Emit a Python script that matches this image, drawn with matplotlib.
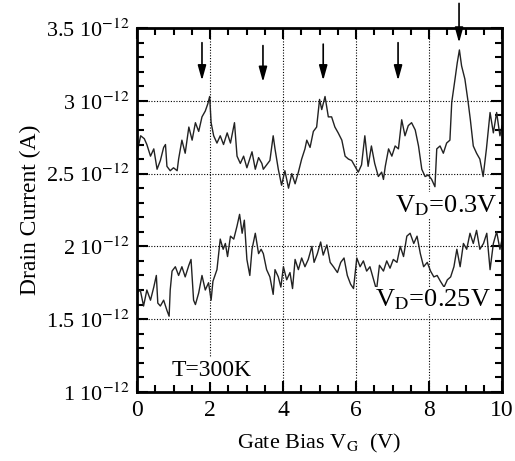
import matplotlib
matplotlib.use('Agg')
import matplotlib.pyplot as plt
import numpy as np
from matplotlib.ticker import MultipleLocator, FuncFormatter

plt.rcParams['font.family'] = ['Liberation Serif', 'DejaVu Serif']
plt.rcParams['mathtext.fontset'] = 'stix'

# V_D = 0.3 V trace (units of 1e-12 A)
vg_hi = [0.00, 0.10, 0.20, 0.27, 0.37, 0.46, 0.55, 0.64, 0.73, 0.78, 0.82, 0.91,
         1.00, 1.10, 1.14, 1.23, 1.32, 1.42, 1.51, 1.60, 1.69, 1.78, 1.87, 1.94,
         1.99, 2.03, 2.10, 2.19, 2.28, 2.37, 2.47, 2.56, 2.67, 2.74, 2.83, 2.92,
         3.01, 3.15, 3.24, 3.33, 3.42, 3.46, 3.55, 3.64, 3.73, 3.78, 3.87, 3.96,
         4.05, 4.15, 4.24, 4.33, 4.42, 4.51, 4.60, 4.65, 4.74, 4.83, 4.92, 5.00,
         5.06, 5.15, 5.24, 5.33, 5.42, 5.51, 5.61, 5.70, 5.79, 5.88, 5.97, 6.06,
         6.15, 6.24, 6.33, 6.42, 6.51, 6.61, 6.70, 6.75, 6.80, 6.89, 6.98, 7.07,
         7.16, 7.25, 7.34, 7.43, 7.52, 7.62, 7.71, 7.80, 7.89, 7.98, 8.07, 8.16,
         8.21, 8.30, 8.39, 8.48, 8.57, 8.62, 8.71, 8.77, 8.83, 8.89, 8.98, 9.07,
         9.13, 9.21, 9.30, 9.39, 9.48, 9.57, 9.67, 9.76, 9.85, 9.94, 10.00]
id_hi = [2.64, 2.76, 2.74, 2.70, 2.62, 2.67, 2.53, 2.59, 2.68, 2.70, 2.55, 2.52,
         2.54, 2.52, 2.60, 2.73, 2.64, 2.82, 2.73, 2.85, 2.79, 2.89, 2.93, 2.98,
         3.03, 2.85, 2.76, 2.71, 2.76, 2.70, 2.78, 2.71, 2.85, 2.62, 2.57, 2.62,
         2.54, 2.65, 2.53, 2.61, 2.57, 2.53, 2.56, 2.59, 2.76, 2.67, 2.53, 2.42,
         2.52, 2.40, 2.50, 2.43, 2.51, 2.60, 2.67, 2.73, 2.68, 2.79, 2.82, 3.01,
         2.94, 3.03, 2.89, 2.89, 2.82, 2.78, 2.73, 2.62, 2.60, 2.59, 2.55, 2.51,
         2.56, 2.76, 2.55, 2.69, 2.57, 2.48, 2.51, 2.46, 2.55, 2.67, 2.62, 2.69,
         2.67, 2.87, 2.76, 2.83, 2.85, 2.80, 2.69, 2.53, 2.48, 2.49, 2.46, 2.41,
         2.67, 2.69, 2.64, 2.71, 2.73, 2.99, 3.15, 3.26, 3.35, 3.24, 3.15, 2.99,
         2.87, 2.69, 2.64, 2.60, 2.48, 2.67, 2.92, 2.78, 2.92, 2.76, 2.83]

# V_D = 0.25 V trace (units of 1e-12 A)
vg_lo = [0.00, 0.09, 0.18, 0.27, 0.37, 0.46, 0.53, 0.57, 0.64, 0.73, 0.82, 0.88,
         0.91, 0.96, 1.05, 1.14, 1.23, 1.32, 1.42, 1.48, 1.55, 1.60, 1.69, 1.78,
         1.87, 1.96, 2.03, 2.08, 2.19, 2.28, 2.36, 2.42, 2.48, 2.56, 2.65, 2.74,
         2.81, 2.88, 2.94, 3.01, 3.09, 3.15, 3.24, 3.33, 3.40, 3.46, 3.55, 3.64,
         3.73, 3.78, 3.87, 3.94, 4.01, 4.10, 4.19, 4.26, 4.33, 4.42, 4.51, 4.60,
         4.69, 4.79, 4.85, 4.94, 5.03, 5.10, 5.20, 5.29, 5.38, 5.49, 5.58, 5.67,
         5.76, 5.85, 5.93, 6.02, 6.11, 6.20, 6.29, 6.38, 6.47, 6.56, 6.64, 6.75,
         6.84, 6.93, 7.02, 7.12, 7.21, 7.30, 7.39, 7.48, 7.58, 7.67, 7.76, 7.85,
         7.95, 8.04, 8.13, 8.22, 8.31, 8.41, 8.50, 8.59, 8.68, 8.76, 8.85, 8.94,
         9.03, 9.12, 9.21, 9.30, 9.39, 9.49, 9.58, 9.67, 9.76, 9.85, 9.94, 10.00]
id_lo = [1.68, 1.70, 1.59, 1.70, 1.63, 1.72, 1.80, 1.61, 1.59, 1.63, 1.56, 1.52,
         1.70, 1.83, 1.86, 1.80, 1.86, 1.79, 1.87, 1.91, 1.63, 1.60, 1.68, 1.80,
         1.70, 1.75, 1.63, 1.76, 1.84, 2.05, 1.98, 2.02, 1.93, 2.07, 2.05, 2.14,
         2.22, 2.09, 2.18, 1.91, 1.80, 1.98, 2.09, 1.95, 1.98, 1.95, 1.84, 1.79,
         1.67, 1.84, 1.79, 1.72, 1.86, 1.77, 1.82, 1.71, 1.91, 1.84, 1.92, 1.86,
         1.91, 2.00, 1.89, 1.95, 2.03, 1.94, 2.01, 1.89, 1.86, 1.82, 1.89, 1.92,
         1.80, 1.74, 1.71, 1.92, 1.86, 1.90, 1.83, 1.86, 1.78, 1.70, 1.87, 1.83,
         1.90, 1.85, 1.91, 1.89, 2.00, 1.93, 2.07, 2.09, 2.02, 2.07, 1.95, 1.86,
         1.89, 1.83, 1.79, 1.80, 1.76, 1.72, 1.77, 1.79, 1.86, 1.98, 1.86, 2.02,
         1.98, 2.09, 2.02, 2.11, 1.98, 2.02, 2.09, 1.84, 2.02, 2.10, 1.98, 2.05]

arrow_x = [1.78, 3.45, 5.10, 7.15, 8.82]
arrow_top = [3.40, 3.38, 3.39, 3.40, 3.67]
arrow_tip = [3.14, 3.13, 3.14, 3.14, 3.40]

scale = 1e-12

fig = plt.figure(figsize=(5.15, 4.61), dpi=100)
ax = fig.add_axes([0.266, 0.150, 0.709, 0.789])

ax.plot(vg_hi, np.array(id_hi) * scale, color='#222222', lw=1.0)
ax.plot(vg_lo, np.array(id_lo) * scale, color='#222222', lw=1.0)

ax.set_xlim(0, 10)
ax.set_ylim(1e-12, 3.5e-12)

ax.xaxis.set_major_locator(MultipleLocator(2))
ax.xaxis.set_minor_locator(MultipleLocator(0.5))
ax.yaxis.set_major_locator(MultipleLocator(0.5e-12))
ax.yaxis.set_minor_locator(MultipleLocator(0.1e-12))
ax.yaxis.set_major_formatter(FuncFormatter(lambda v, p: '%g 10$^{-12}$' % round(v / scale, 2)))

ax.grid(True, which='major', color='black', linestyle=(0, (1, 1.5)), lw=0.8)
ax.tick_params(which='both', direction='in', top=True, right=True, width=1.5)
ax.tick_params(which='major', length=8)
ax.tick_params(which='minor', length=5)
ax.tick_params(axis='x', labelsize=17, pad=6)
ax.tick_params(axis='y', labelsize=16, pad=5)
for s in ax.spines.values():
    s.set_linewidth(2)

ax.set_xlabel('Gate Bias V$_\\mathrm{G}$  (V)', fontsize=16, labelpad=8)
ax.set_ylabel('Drain Current (A)', fontsize=17, labelpad=4)

box = dict(facecolor='white', edgecolor='none', pad=1)
ax.text(8.47, 2.28e-12, 'V$_\\mathrm{D}$=0.3V', fontsize=19, ha='center', va='center', bbox=box)
ax.text(8.10, 1.63e-12, 'V$_\\mathrm{D}$=0.25V', fontsize=19, ha='center', va='center', bbox=box)
ax.text(2.05, 1.15e-12, 'T=300K', fontsize=17, ha='center', va='center', bbox=box)

for x, y0, y1 in zip(arrow_x, arrow_top, arrow_tip):
    ax.annotate('', xy=(x, y1 * scale), xytext=(x, y0 * scale), annotation_clip=False,
                arrowprops=dict(arrowstyle='-|>,head_length=0.9,head_width=0.25',
                                color='black', lw=1.2, shrinkA=0, shrinkB=0))

fig.savefig('out.png', dpi=100)
